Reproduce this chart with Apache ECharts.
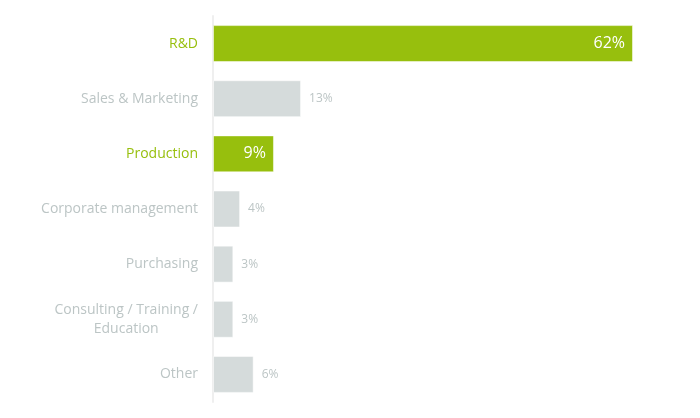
<!DOCTYPE html>
<html>
<head>
<meta charset="utf-8">
<script src="https://cdn.jsdelivr.net/npm/echarts@6/dist/echarts.min.js"></script>
<style>html,body{margin:0;padding:0;background:#fff;}#c{width:700px;height:418px;}</style>
</head>
<body>
<div id="c"></div>
<script>
const categories = ['R&D', 'Sales & Marketing', 'Production', 'Corporate management', 'Purchasing', 'Consulting / Training /\nEducation', 'Other'];
const values = [62, 13, 9, 4, 3, 3, 6];
const highlighted = ['R&D', 'Production'];

const GREEN = '#97BF0D';
const GREY = '#D5DBDB';
const GREY_TEXT = '#BCC5C5';
const FONT = '"Open Sans", sans-serif';

const chart = echarts.init(document.getElementById('c'), null, {renderer: 'canvas'});
const data = categories.map((c, i) => {
  const hi = highlighted.includes(c);
  return {
    value: values[i],
    itemStyle: {color: hi ? GREEN : GREY},
    label: hi ? {position: 'insideRight', color: '#fff', fontSize: 16, distance: 8}
              : {position: 'right', color: GREY_TEXT, fontSize: 12, distance: 8}
  };
});
chart.setOption({
  animation: false,
  grid: {left: 213, right: 67, top: 16, bottom: 16, containLabel: false},
  xAxis: {type: 'value', min: 0, max: 62, show: false},
  yAxis: {
    type: 'category', data: categories, inverse: true,
    axisLine: {show: true, lineStyle: {color: '#EFEFEF', width: 2}},
    axisTick: {show: false},
    axisLabel: {
      margin: 15, fontFamily: FONT, fontSize: 14, lineHeight: 19,
      color: function (v) { return highlighted.includes(v) ? GREEN : GREY_TEXT; },
      formatter: function (v) {
        if (v.indexOf('\n') < 0) return v;
        return v.split('\n').map(function (s) { return '{m|' + s + '}'; }).join('\n');
      },
      rich: {m: {align: 'center', color: GREY_TEXT, fontFamily: FONT, fontSize: 14, lineHeight: 19}}
    }
  },
  series: [{
    type: 'bar', data: data, barCategoryGap: '33%',
    itemStyle: {borderColor: 'rgba(255,255,255,0.5)', borderWidth: 1},
    label: {show: true, formatter: '{c}%', fontFamily: FONT}
  }]
});
</script>
</body>
</html>
